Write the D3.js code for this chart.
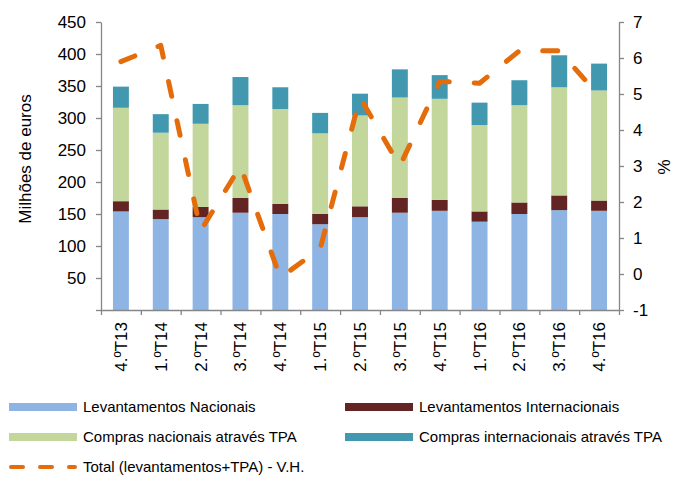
<!DOCTYPE html>
<html>
<head>
<meta charset="utf-8">
<script src="https://cdn.jsdelivr.net/npm/d3@7"></script>
<style>
  body { margin: 0; background: #fff; }
  text { font-family: "Liberation Sans", Arial, sans-serif; fill: #000; }
</style>
</head>
<body>
<div id="chart"></div>
<script>
// Data
const quarters = ["4.ºT13", "1.ºT14", "2.ºT14", "3.ºT14", "4.ºT14", "1.ºT15", "2.ºT15",
                  "3.ºT15", "4.ºT15", "1.ºT16", "2.ºT16", "3.ºT16", "4.ºT16"];
const levNacionais = [154, 142, 145, 152, 150, 134, 145, 152, 155, 138, 150, 156, 155];
const levInternacionais = [16, 15, 16, 23, 16, 16, 17, 23, 17, 16, 18, 23, 16];
const comprasNacionais = [146, 120, 130, 145, 148, 126, 142, 157, 158, 135, 152, 169, 172];
const comprasInternacionais = [33, 29, 31, 44, 34, 32, 34, 44, 37, 35, 39, 50, 42];
const totalVH = [5.9, 6.35, 1.2, 3.0, -0.1, 0.7, 4.9, 3.0, 5.35, 5.3, 6.2, 6.2, 4.95];
const leftTicks = [0, 50, 100, 150, 200, 250, 300, 350, 400, 450];
const rightTicks = [-1, 0, 1, 2, 3, 4, 5, 6, 7];

const series = [
    { key: "levNac", name: "Levantamentos Nacionais", values: levNacionais, color: "#8EB4E3" },
    { key: "levInt", name: "Levantamentos Internacionais", values: levInternacionais, color: "#632523" },
    { key: "compNac", name: "Compras nacionais através TPA", values: comprasNacionais, color: "#C3D69B" },
    { key: "compInt", name: "Compras internacionais através TPA", values: comprasInternacionais, color: "#4198AF" }
];
const lineName = "Total (levantamentos+TPA) - V.H.";
const lineColor = "#E46C0A";
const axisColor = "#868686";

const width = 673, height = 477;
const plot = { left: 101, right: 619, top: 22, bottom: 310 };

const svg = d3.select("#chart").append("svg")
    .attr("width", width)
    .attr("height", height);

// table for the stack
const table = quarters.map((q, i) => {
    const row = { q: q };
    series.forEach(s => row[s.key] = s.values[i]);
    return row;
});
const stacked = d3.stack().keys(series.map(s => s.key))(table);

const x = d3.scaleBand()
    .domain(quarters)
    .range([plot.left, plot.right])
    .paddingInner(0.6)
    .paddingOuter(0.3);

const edges = d3.scaleLinear()
    .domain([0, quarters.length])
    .range([plot.left, plot.right]);

const y = d3.scaleLinear().domain([0, 450]).range([plot.bottom, plot.top]);
const y2 = d3.scaleLinear().domain([-1, 7]).range([plot.bottom, plot.top]);

// bars
svg.append("g")
    .selectAll("g")
    .data(stacked)
    .enter().append("g")
    .attr("fill", (d, i) => series[i].color)
    .selectAll("rect")
    .data(d => d)
    .enter().append("rect")
    .attr("x", d => x(d.data.q))
    .attr("y", d => y(d[1]))
    .attr("width", x.bandwidth())
    .attr("height", d => y(d[0]) - y(d[1]));

// axes
const styleAxis = g => {
    g.select(".domain").attr("stroke", axisColor).attr("stroke-width", 1.3);
    g.selectAll(".tick line").attr("stroke", axisColor).attr("stroke-width", 1.3);
    g.selectAll(".tick text").style("font-size", "17px").attr("fill", "#000");
};

svg.append("g")
    .attr("transform", `translate(${plot.left},0)`)
    .call(d3.axisLeft(y).tickValues(leftTicks).tickSize(5).tickSizeOuter(0).tickPadding(10)
        .tickFormat(d => d === 0 ? "" : String(d)))
    .call(styleAxis);

svg.append("g")
    .attr("transform", `translate(${plot.right},0)`)
    .call(d3.axisRight(y2).tickValues(rightTicks).tickSize(5).tickSizeOuter(0).tickPadding(9)
        .tickFormat(d => String(d)))
    .call(styleAxis);

// x axis: ticks on band edges
svg.append("g")
    .attr("transform", `translate(0,${plot.bottom})`)
    .call(d3.axisBottom(edges).ticks(quarters.length).tickSize(5).tickSizeOuter(0).tickFormat(""))
    .call(styleAxis);

// rotated category labels
svg.append("g")
    .selectAll("text")
    .data(quarters)
    .enter().append("text")
    .attr("transform", d => `translate(${x(d) + x.bandwidth() / 2 + 6},322) rotate(-90)`)
    .attr("text-anchor", "end")
    .style("font-size", "17px")
    .text(d => d);

// axis titles
svg.append("text")
    .attr("transform", "translate(31,159) rotate(-90)")
    .attr("text-anchor", "middle")
    .style("font-size", "17px")
    .text("Milhões de euros");

svg.append("text")
    .attr("transform", "translate(658,167) rotate(90)")
    .attr("text-anchor", "middle")
    .style("font-size", "17px")
    .text("%");

// dashed line on the secondary axis
const line = d3.line()
    .x((d, i) => x(quarters[i]) + x.bandwidth() / 2)
    .y(d => y2(d));

svg.append("path")
    .datum(totalVH)
    .attr("fill", "none")
    .attr("stroke", lineColor)
    .attr("stroke-width", 5)
    .attr("stroke-linecap", "round")
    .attr("stroke-linejoin", "round")
    .attr("stroke-dasharray", "15,25")
    .attr("d", line);

// legend
const legendItems = series.map(s => ({ name: s.name, color: s.color, dash: false }))
    .concat([{ name: lineName, color: lineColor, dash: true }]);
const legendCols = [9, 345];
const legendRows = [407, 437, 467];

const legend = svg.append("g")
    .selectAll("g")
    .data(legendItems)
    .enter().append("g")
    .attr("transform", (d, i) => `translate(${legendCols[i % 2]},${legendRows[Math.floor(i / 2)]})`);

legend.filter(d => !d.dash).append("rect")
    .attr("x", 0)
    .attr("y", -4)
    .attr("width", 68)
    .attr("height", 8)
    .attr("fill", d => d.color);

legend.filter(d => d.dash).append("line")
    .attr("x1", 2)
    .attr("x2", 66)
    .attr("stroke", d => d.color)
    .attr("stroke-width", 4)
    .attr("stroke-linecap", "round")
    .attr("stroke-dasharray", "12,17");

legend.append("text")
    .attr("x", 74)
    .attr("dy", "0.35em")
    .style("font-size", "15px")
    .text(d => d.name);
</script>
</body>
</html>
